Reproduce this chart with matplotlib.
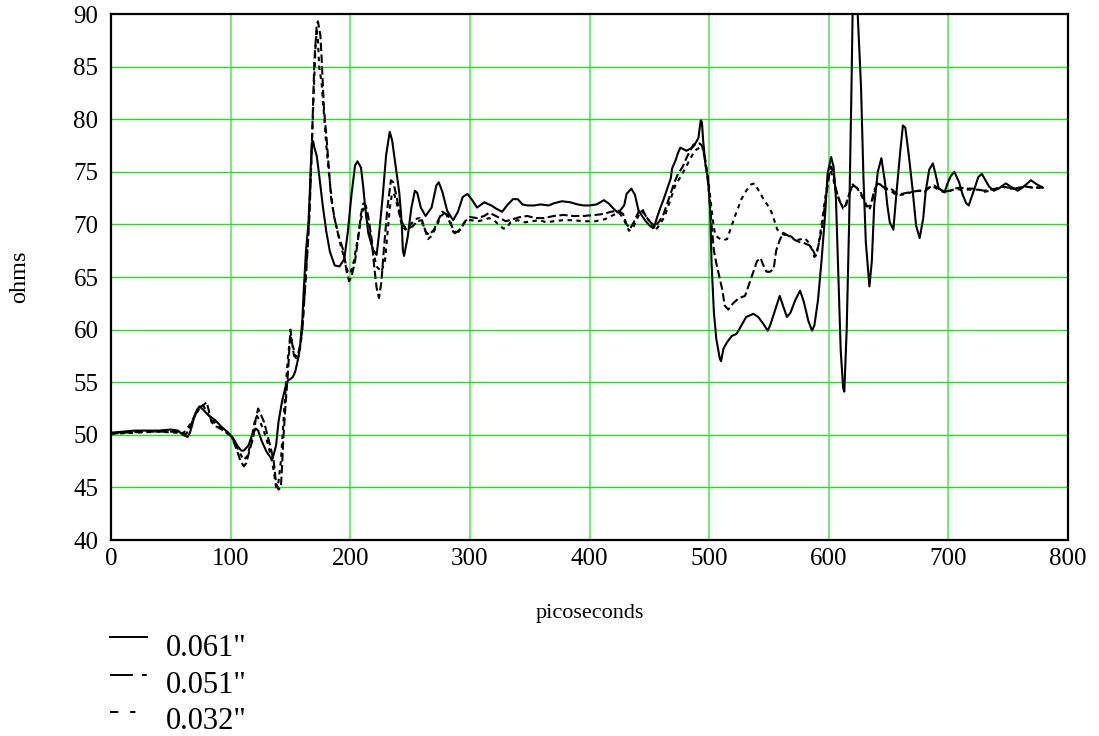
import matplotlib
matplotlib.use("Agg")
import matplotlib.pyplot as plt
from matplotlib.lines import Line2D

plt.rcParams['font.family'] = ['Liberation Serif', 'DejaVu Serif']
plt.rcParams['lines.scale_dashes'] = False

# ---------------- data ----------------
series_labels = ['0.061"', '0.051"', '0.032"']

t061 = [0, 10, 20, 30, 40, 50, 56, 60, 64, 66, 68, 70, 72, 74, 77, 81, 87, 92, 98, 102,
        106, 109, 111, 115, 118, 121, 123, 126, 130, 133, 135, 138, 140, 143, 146, 148, 150, 152, 154, 156,
        158, 160, 161, 162, 163, 165, 166, 167, 168, 169, 170, 172, 174, 177, 180, 183, 187, 191, 195, 198,
        201, 204, 206, 209, 211, 212, 215, 219, 222, 224, 227, 230, 233, 235, 238, 241, 243, 244, 245, 248,
        251, 254, 256, 259, 263, 268, 272, 274, 277, 281, 286, 290, 294, 298, 302, 306, 312, 318, 322, 327,
        331, 336, 340, 344, 348, 354, 359, 366, 370, 377, 384, 390, 395, 400, 406, 412, 416, 420, 424, 429,
        431, 435, 438, 441, 444, 447, 451, 454, 456, 459, 462, 465, 468, 469, 472, 474, 476, 481, 486, 488,
        491, 493, 494, 495, 497, 499, 501, 502, 504, 506, 509, 510, 512, 515, 519, 523, 527, 531, 537, 541,
        545, 549, 551, 555, 559, 562, 565, 568, 572, 576, 579, 583, 586, 588, 591, 594, 597, 599, 602, 604,
        606, 608, 610, 612, 613, 615, 617, 619, 620, 622, 624, 627, 629, 631, 634, 636, 638, 641, 644, 647,
        649, 651, 654, 657, 660, 662, 664, 667, 670, 673, 676, 679, 681, 684, 687, 689, 692, 697, 699, 702,
        705, 709, 712, 715, 717, 720, 723, 725, 728, 731, 734, 738, 742, 748, 752, 758, 762, 769, 774, 779]
v061 = [50.2, 50.3, 50.4, 50.4, 50.4, 50.5, 50.4, 50.0, 49.8, 50.2, 51.0, 51.9, 52.4, 52.7, 52.4, 51.9, 51.4, 50.8, 50.2, 49.7,
        48.9, 48.5, 48.5, 49.0, 50.0, 50.6, 50.4, 49.4, 48.4, 47.9, 47.7, 49.0, 51.2, 53.2, 54.6, 55.2, 55.3, 55.5, 56.0, 57.0,
        58.3, 61.0, 63.5, 65.5, 67.5, 70.0, 72.5, 75.5, 77.8, 77.9, 77.3, 76.5, 74.7, 71.8, 69.3, 67.4, 66.1, 66.0, 66.7, 69.3,
        72.8, 75.6, 76.0, 75.4, 73.4, 72.2, 69.2, 67.6, 67.1, 69.0, 72.5, 76.6, 78.8, 78.0, 75.5, 73.0, 70.2, 67.5, 67.0, 68.8,
        71.5, 73.2, 73.0, 71.6, 70.8, 71.6, 73.7, 74.0, 73.1, 71.3, 70.4, 71.2, 72.6, 72.9, 72.3, 71.6, 72.1, 71.8, 71.5, 71.2,
        71.8, 72.4, 72.4, 71.9, 71.8, 71.8, 71.9, 71.8, 72.0, 72.2, 72.1, 71.9, 71.8, 71.8, 71.9, 72.3, 72.0, 71.5, 71.1, 71.8,
        72.9, 73.4, 72.8, 71.3, 70.8, 70.3, 69.8, 69.7, 70.5, 71.5, 72.4, 73.4, 74.4, 75.3, 76.1, 76.8, 77.3, 77.0, 77.3, 77.6,
        78.2, 79.9, 79.7, 78.0, 75.6, 74.4, 71.1, 66.4, 61.6, 59.1, 57.2, 57.0, 58.2, 58.8, 59.4, 59.6, 60.4, 61.2, 61.5, 61.2,
        60.6, 59.9, 60.4, 61.8, 63.2, 62.2, 61.2, 61.6, 62.8, 63.7, 62.7, 60.8, 59.9, 60.4, 62.8, 66.6, 71.0, 74.8, 76.4, 75.5,
        72.5, 65.4, 58.0, 54.5, 54.1, 60.0, 70.0, 83.0, 90.5, 95.0, 90.5, 83.0, 74.5, 68.3, 64.1, 66.5, 71.8, 75.0, 76.3, 74.0,
        71.8, 70.2, 69.5, 73.5, 77.2, 79.4, 79.2, 76.5, 73.4, 69.9, 68.7, 70.6, 73.1, 75.2, 75.8, 74.9, 73.4, 73.1, 73.8, 74.6,
        75.0, 74.0, 72.8, 72.0, 71.8, 72.8, 73.8, 74.5, 74.8, 74.2, 73.6, 73.2, 73.4, 73.9, 73.6, 73.2, 73.5, 74.2, 73.8, 73.5]

t051 = [0, 10, 30, 50, 58, 62, 65, 68, 71, 74, 78, 80, 82, 84, 88, 94, 101, 105, 108, 111,
        113, 116, 119, 121, 123, 125, 128, 130, 133, 136, 138, 140, 142, 143, 144, 146, 148, 150, 151, 153,
        156, 158, 160, 162, 164, 166, 168, 170, 172, 173, 175, 176, 178, 180, 182, 184, 187, 190, 194, 197,
        199, 201, 204, 207, 209, 211, 213, 215, 218, 220, 222, 224, 226, 228, 231, 234, 236, 239, 242, 245,
        248, 252, 256, 260, 263, 266, 270, 274, 277, 280, 284, 288, 292, 296, 300, 306, 312, 316, 320, 325,
        330, 336, 342, 348, 355, 362, 370, 378, 386, 395, 405, 412, 418, 424, 428, 431, 434, 437, 441, 444,
        447, 451, 455, 459, 462, 465, 468, 471, 474, 478, 481, 484, 487, 490, 492, 494, 496, 498, 500, 501,
        502, 504, 506, 509, 511, 513, 516, 520, 525, 530, 534, 537, 540, 543, 545, 548, 551, 554, 556, 559,
        562, 565, 568, 572, 576, 580, 584, 587, 589, 591, 594, 597, 600, 602, 604, 606, 608, 610, 612, 614,
        617, 620, 623, 626, 629, 632, 635, 638, 641, 645, 649, 653, 657, 661, 665, 670, 675, 680, 684, 688,
        692, 697, 701, 705, 710, 715, 720, 725, 730, 735, 740, 745, 750, 755, 760, 765, 770, 775, 779]
v051 = [50.1, 50.2, 50.3, 50.3, 50.3, 50.0, 50.4, 51.3, 52.0, 52.6, 52.9, 53.1, 52.2, 51.2, 50.8, 50.4, 49.8, 48.6, 47.6, 47.0,
        47.3, 48.6, 49.8, 51.5, 52.5, 52.0, 51.2, 50.3, 49.0, 47.5, 45.4, 44.8, 45.0, 47.0, 49.5, 53.0, 56.0, 60.0, 59.0, 57.5,
        57.5, 58.5, 60.0, 63.5, 67.0, 71.0, 78.0, 85.5, 89.0, 89.3, 88.0, 86.0, 81.0, 78.5, 75.5, 72.5, 70.5, 69.0, 67.6, 65.5,
        64.6, 65.0, 66.5, 69.0, 71.0, 72.0, 71.8, 70.8, 68.5, 66.0, 64.0, 63.0, 64.5, 67.5, 71.5, 74.2, 74.0, 72.5, 70.5, 69.8,
        69.6, 69.8, 70.3, 70.4, 69.3, 69.0, 69.5, 70.5, 71.2, 71.0, 70.0, 69.2, 69.5, 70.3, 70.7, 70.6, 70.8, 71.1, 70.9, 70.6,
        70.3, 70.5, 70.7, 70.8, 70.6, 70.6, 70.8, 70.9, 70.8, 70.8, 70.9, 71.0, 71.2, 71.3, 71.0, 70.0, 69.6, 70.2, 71.2, 71.5,
        70.8, 70.2, 69.8, 70.4, 71.0, 72.0, 73.0, 74.0, 74.8, 75.5, 76.3, 77.0, 77.6, 77.6, 77.7, 77.5, 76.5, 75.0, 73.0, 71.5,
        70.0, 67.5, 66.3, 64.8, 63.8, 62.3, 61.9, 62.5, 63.0, 63.2, 64.5, 65.5, 66.5, 66.8, 66.2, 65.5, 65.5, 65.8, 67.5, 68.5,
        69.2, 69.0, 68.8, 68.5, 68.3, 68.2, 68.0, 67.5, 67.0, 67.8, 69.5, 72.0, 74.5, 75.5, 74.8, 73.4, 72.5, 72.0, 71.6, 71.8,
        72.8, 73.8, 73.5, 73.2, 72.5, 71.7, 71.8, 73.2, 74.0, 73.6, 73.4, 73.3, 72.9, 72.9, 73.0, 73.1, 73.2, 73.1, 73.5, 73.7,
        73.4, 73.1, 73.2, 73.4, 73.5, 73.4, 73.4, 73.3, 73.2, 73.3, 73.4, 73.6, 73.5, 73.4, 73.5, 73.6, 73.5, 73.5, 73.5]

t032 = [0, 20, 40, 55, 60, 63, 66, 70, 74, 77, 79, 83, 88, 94, 100, 104, 108, 111, 114, 117,
        120, 122, 124, 127, 130, 133, 136, 138, 140, 142, 144, 146, 148, 150, 152, 155, 157, 159, 161, 163,
        165, 167, 169, 171, 172, 173, 174, 176, 178, 180, 182, 184, 186, 189, 192, 195, 198, 200, 203, 206,
        209, 211, 213, 216, 219, 222, 226, 229, 231, 233, 235, 237, 240, 243, 246, 250, 254, 258, 262, 265,
        268, 272, 276, 280, 283, 286, 289, 293, 297, 301, 306, 311, 316, 320, 324, 328, 331, 334, 340, 346,
        352, 358, 364, 370, 378, 386, 395, 405, 413, 420, 425, 429, 433, 436, 440, 443, 446, 450, 454, 457,
        460, 463, 466, 469, 472, 476, 480, 484, 488, 492, 495, 497, 499, 501, 503, 505, 508, 511, 515, 518,
        522, 527, 531, 535, 538, 541, 545, 549, 552, 555, 557, 560, 563, 567, 570, 573, 577, 580, 583, 586,
        588, 590, 592, 594, 597, 600, 602, 604, 606, 609, 612, 614, 616, 619, 622, 625, 628, 631, 634, 637,
        640, 643, 647, 651, 655, 660, 665, 670, 676, 681, 685, 689, 693, 698, 702, 706, 710, 715, 720, 725,
        730, 735, 740, 745, 750, 755, 760, 765, 770, 775, 779]
v032 = [50.1, 50.2, 50.3, 50.2, 50.1, 50.5, 51.0, 51.8, 52.5, 52.8, 52.4, 51.6, 51.0, 50.5, 49.9, 49.2, 48.2, 47.6, 48.0, 49.3,
        51.2, 51.8, 51.4, 50.6, 49.6, 48.3, 46.6, 45.0, 45.5, 47.5, 51.0, 54.5, 57.5, 59.5, 58.5, 57.0, 57.5, 59.0, 62.0, 65.5,
        69.5, 74.5, 81.0, 87.0, 88.4, 87.5, 85.0, 83.5, 80.5, 77.5, 75.0, 73.0, 71.0, 69.5, 68.0, 66.8, 65.5, 65.3, 66.5, 68.5,
        70.5, 71.5, 71.0, 69.5, 67.5, 66.0, 65.5, 66.5, 69.0, 71.5, 73.0, 72.8, 71.5, 70.0, 69.5, 69.9, 70.5, 70.6, 69.7, 68.6,
        68.9, 69.8, 70.8, 71.2, 70.6, 69.3, 69.0, 69.8, 70.4, 70.4, 70.3, 70.4, 70.6, 70.4, 70.0, 69.6, 69.7, 70.2, 70.4, 70.2,
        70.3, 70.4, 70.2, 70.3, 70.4, 70.4, 70.3, 70.3, 70.5, 70.9, 71.1, 70.4, 69.4, 69.6, 70.6, 71.3, 71.0, 70.3, 69.4, 69.7,
        70.2, 70.8, 71.8, 72.8, 73.8, 74.5, 75.3, 76.2, 77.0, 77.3, 77.2, 76.0, 74.5, 72.5, 70.5, 69.0, 68.7, 68.5, 68.6, 69.6,
        70.9, 72.4, 73.2, 73.8, 73.9, 73.3, 72.5, 71.8, 71.2, 70.2, 69.5, 69.2, 69.0, 69.0, 68.7, 68.5, 68.6, 68.7, 68.3, 67.6,
        66.9, 67.2, 68.5, 70.0, 72.5, 74.5, 75.0, 74.2, 73.2, 72.3, 71.5, 71.6, 72.5, 73.5, 73.8, 73.2, 72.6, 71.8, 71.4, 72.5,
        73.9, 73.8, 73.4, 73.3, 72.9, 72.8, 72.9, 73.1, 73.2, 73.3, 73.6, 73.5, 73.2, 73.0, 73.2, 73.4, 73.3, 73.3, 73.3, 73.3,
        73.1, 73.2, 73.4, 73.6, 73.4, 73.4, 73.5, 73.6, 73.5, 73.5, 73.5]

x_ticks = [0, 100, 200, 300, 400, 500, 600, 700, 800]
y_ticks = [40, 45, 50, 55, 60, 65, 70, 75, 80, 85, 90]

# ---------------- figure ----------------
W, H = 1099, 736
fig = plt.figure(figsize=(W / 100, H / 100), dpi=100)
left, right, top, bottom = 111, 1068, 14, 540
ax = fig.add_axes([left / W, 1 - bottom / H, (right - left) / W, (bottom - top) / H])

ax.set_xlim(0, 800)
ax.set_ylim(40, 90)
ax.set_xticks(x_ticks)
ax.set_yticks(y_ticks)
ax.tick_params(length=0, labelsize=18)
ax.tick_params(axis='y', pad=9)
ax.tick_params(axis='x', pad=6)

for x in x_ticks[1:-1]:
    ax.axvline(x, color='#6fef6f', lw=1.4, zorder=1)
for y in y_ticks[1:-1]:
    ax.axhline(y, color='#1fe01f', lw=1.0, zorder=1)

for s in ax.spines.values():
    s.set_linewidth(1.6)
    s.set_color('black')

styles = [dict(ls='-'),
          dict(ls=(0, (6, 2.5))),
          dict(ls=(0, (3.2, 3.2)))]
data = [(t061, v061), (t051, v051), (t032, v032)]
for (t, v), st, lab in zip(data, styles, series_labels):
    ax.plot(t, v, color='black', lw=1.5, label=lab, zorder=3, **st)

ax.set_xlabel('picoseconds', fontsize=16, labelpad=24)
ax.set_ylabel('ohms', fontsize=17.5, labelpad=31)

# legend drawn manually below the axes
leg_styles = ['-', (0, (16.5, 6.5, 3.5, 20)), (0, (6, 8.5, 3.8, 20))]
line_y = [637, 675, 712]
base_y = [656, 693, 729]
for ls, lab, ly, by in zip(leg_styles, series_labels, line_y, base_y):
    fig.add_artist(Line2D([110 / W, 147 / W], [1 - ly / H, 1 - ly / H],
                          transform=fig.transFigure, color='black', lw=1.4, ls=ls))
    fig.text(166 / W, 1 - by / H, lab, fontsize=22, va='baseline', ha='left')

fig.savefig('out.png', dpi=100)
